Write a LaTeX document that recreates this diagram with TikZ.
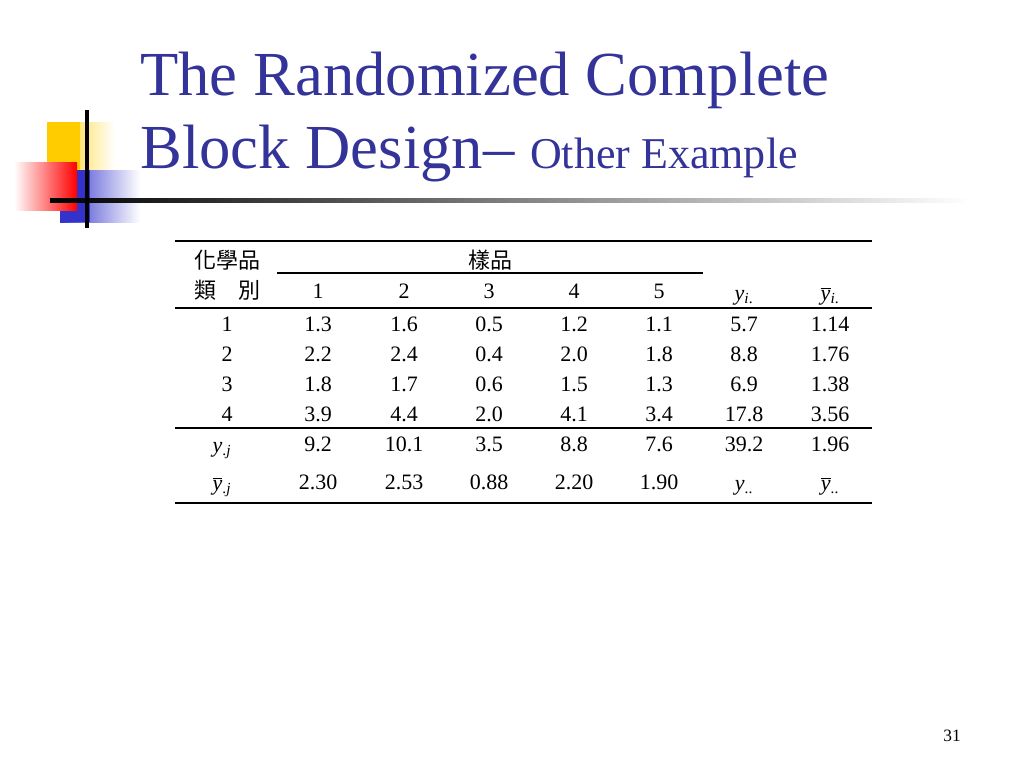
\documentclass[tikz,border=0pt]{standalone}
\usepackage{fontspec}
\setmainfont{Liberation Serif}
\newfontfamily\cjk{Noto Sans CJK TC}
\usetikzlibrary{fadings}
\definecolor{ttl}{RGB}{51,51,153}
\definecolor{ylw}{RGB}{255,204,0}
\definecolor{blu}{RGB}{51,51,204}
\newcommand{\iy}{\textit{y}}
\newcommand{\by}{$\overline{\mbox{\textit{y}}}$}
\newcommand{\sub}[1]{\textsubscript{#1}}
\begin{document}
\begin{tikzpicture}[x=0.75pt,y=-0.75pt,
  cell/.style={font=\fontsize{16.5}{18}\selectfont,anchor=base,inner sep=0pt},
  rule/.style={line width=1pt}]
\useasboundingbox (0,0) rectangle (1024,768);
% logo
\shade[left color=ylw,right color=white] (47,122) rectangle (115,175);
\fill[ylw] (47,122) rectangle (80,175);
\shade[left color=blu,right color=white] (60,170) rectangle (140,222);
\fill[blu] (60,170) rectangle (90,222);
\shade[left color=white,right color=red] (14,162) rectangle (77,210);
\shade[left color=black,right color=white] (50,198) rectangle (970,202);
\draw[line width=2.5pt] (87,110) -- (87,228);
% title
\node[anchor=base west,text=ttl,font=\fontsize{47}{50}\selectfont,inner sep=0pt] (t1) at (140,95) {The Randomized Complete};
\node[anchor=base west,text=ttl,font=\fontsize{47}{50}\selectfont,inner sep=0pt] (t2) at (140,168) {Block Design\textendash{} {\fontsize{33}{36}\selectfont Other Example}};
% rules
\draw[rule] (175,241) -- (872,241);
\draw[rule] (277,273) -- (703,273);
\draw[rule] (175,308) -- (872,308);
\draw[rule] (175,428) -- (872,428);
\draw[rule] (175,503) -- (872,503);
% header
\node[cell] (h1) at (227,268) {\cjk 化學品};
\node[cell] (h2) at (490,268) {\cjk 樣品};
\node[cell] (h3) at (227,298) {\cjk 類\hspace{1em}別};
\foreach \c/\x in {1/318,2/404,3/489,4/574,5/659}
  \node[cell] (hc\c) at (\x,298) {\c};
\node[cell] (hy) at (744,300) {\iy\sub{\textit{i}.}};
\node[cell] (hyb) at (830,300) {\by\sub{\textit{i}.}};
% data
\foreach \r/\yy/\a/\b/\c/\d/\e/\f/\g in {
  1/331/1.3/1.6/0.5/1.2/1.1/5.7/1.14,
  2/361/2.2/2.4/0.4/2.0/1.8/8.8/1.76,
  3/391/1.8/1.7/0.6/1.5/1.3/6.9/1.38,
  4/421/3.9/4.4/2.0/4.1/3.4/17.8/3.56}{
  \node[cell] (r\r0) at (227,\yy) {\r};
  \node[cell] (r\r1) at (318,\yy) {\a};
  \node[cell] (r\r2) at (404,\yy) {\b};
  \node[cell] (r\r3) at (489,\yy) {\c};
  \node[cell] (r\r4) at (574,\yy) {\d};
  \node[cell] (r\r5) at (659,\yy) {\e};
  \node[cell] (r\r6) at (744,\yy) {\f};
  \node[cell] (r\r7) at (830,\yy) {\g};
}
\node[cell] (s0) at (222,452) {\iy\sub{.\textit{j}}};
\foreach \v/\x/\n in {9.2/318/1,10.1/404/2,3.5/489/3,8.8/574/4,7.6/659/5,39.2/744/6,1.96/830/7}
  \node[cell] (s\n) at (\x,451) {\v};
\node[cell] (m0) at (222,490) {\by\sub{.\textit{j}}};
\foreach \v/\x/\n in {2.30/318/1,2.53/404/2,0.88/489/3,2.20/574/4,1.90/659/5}
  \node[cell] (m\n) at (\x,489) {\v};
\node[cell] (m6) at (744,490) {\iy\sub{..}};
\node[cell] (m7) at (830,490) {\by\sub{..}};
\node[anchor=base,font=\fontsize{13}{14}\selectfont,inner sep=0pt] (pg) at (952,741) {31};
\end{tikzpicture}
\end{document}
